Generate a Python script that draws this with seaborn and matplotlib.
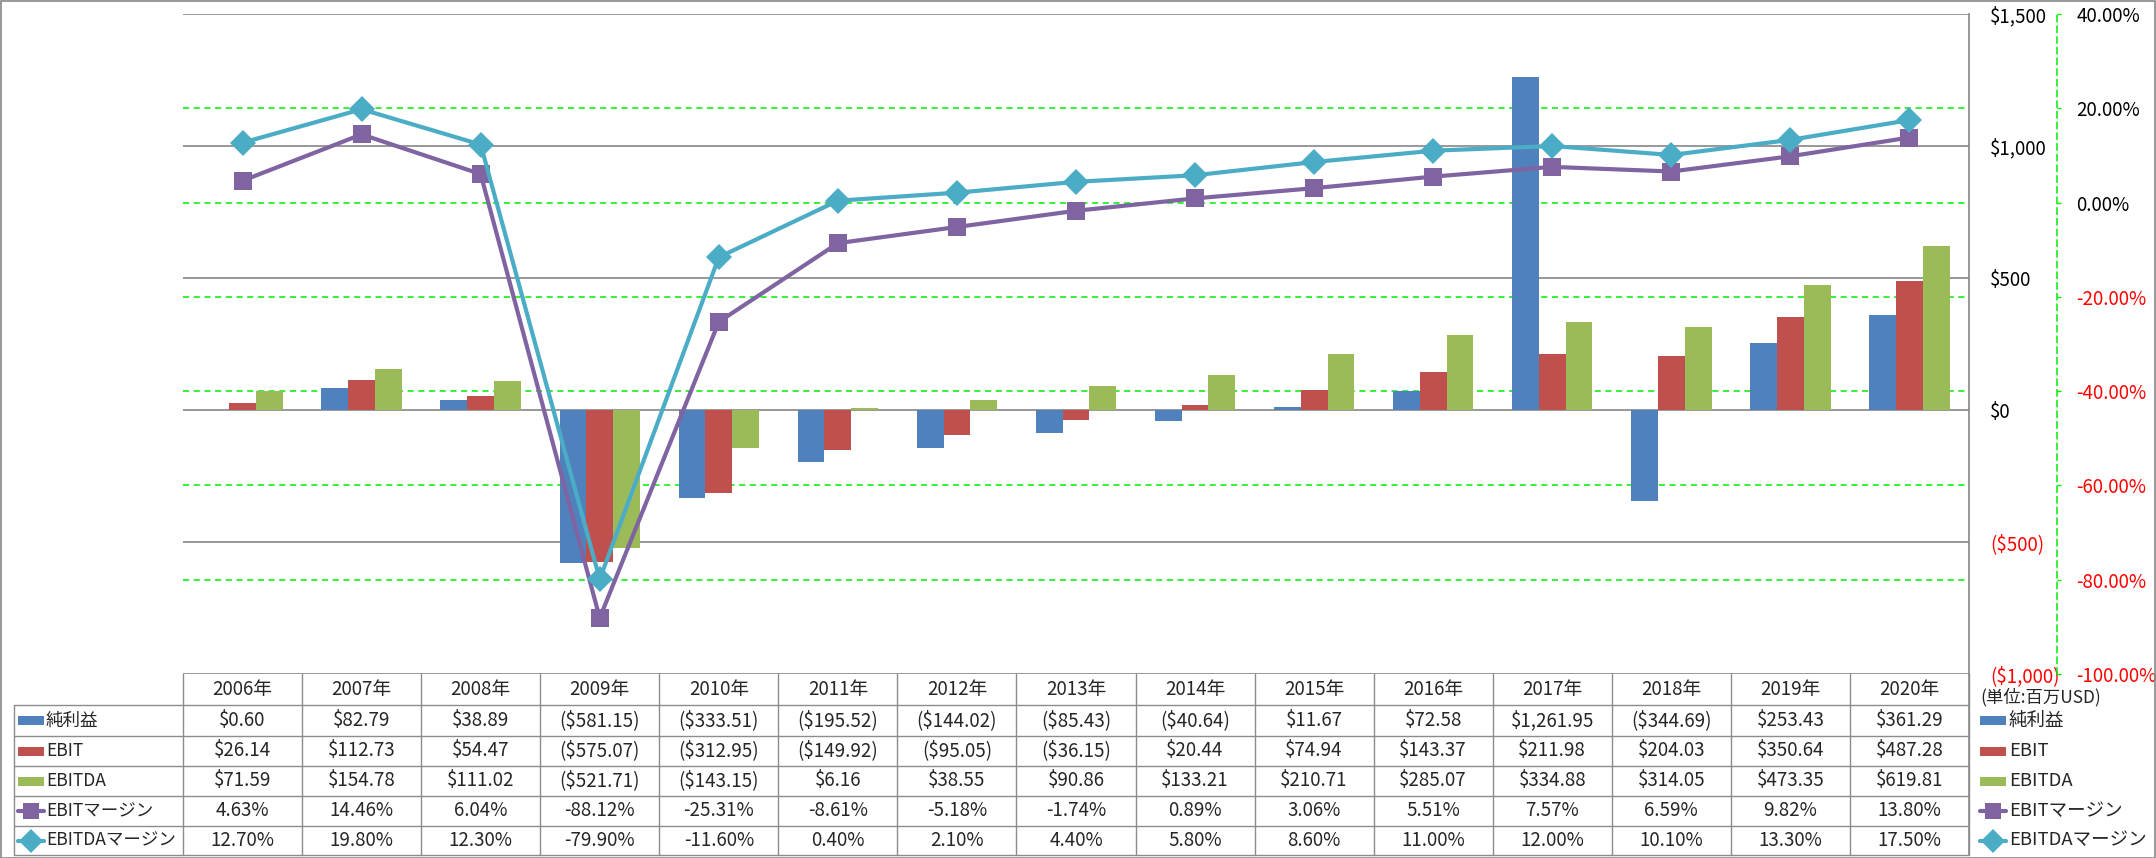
import numpy as np
import pandas as pd
import matplotlib
matplotlib.use('Agg')
import matplotlib.pyplot as plt
import matplotlib.transforms as mtransforms
from matplotlib.patches import Rectangle
from matplotlib.lines import Line2D
import seaborn as sns

# data
years = ['2006年', '2007年', '2008年', '2009年', '2010年', '2011年', '2012年', '2013年',
         '2014年', '2015年', '2016年', '2017年', '2018年', '2019年', '2020年']
net_income = [0.60, 82.79, 38.89, -581.15, -333.51, -195.52, -144.02, -85.43,
              -40.64, 11.67, 72.58, 1261.95, -344.69, 253.43, 361.29]
ebit = [26.14, 112.73, 54.47, -575.07, -312.95, -149.92, -95.05, -36.15,
        20.44, 74.94, 143.37, 211.98, 204.03, 350.64, 487.28]
ebitda = [71.59, 154.78, 111.02, -521.71, -143.15, 6.16, 38.55, 90.86,
          133.21, 210.71, 285.07, 334.88, 314.05, 473.35, 619.81]
ebit_margin = [4.63, 14.46, 6.04, -88.12, -25.31, -8.61, -5.18, -1.74,
               0.89, 3.06, 5.51, 7.57, 6.59, 9.82, 13.80]
ebitda_margin = [12.70, 19.80, 12.30, -79.90, -11.60, 0.40, 2.10, 4.40,
                 5.80, 8.60, 11.00, 12.00, 10.10, 13.30, 17.50]

bar_names = ['純利益', 'EBIT', 'EBITDA']
line_names = ['EBITマージン', 'EBITDAマージン']
bar_colors = ['#4F81BD', '#C0504D', '#9BBB59']
line_colors = ['#8064A2', '#4BACC6']
line_markers = ['s', 'D']
money_ticks = [-1000, -500, 0, 500, 1000, 1500]
pct_ticks = [-100, -80, -60, -40, -20, 0, 20, 40]

GRAY = '#868686'
GREEN = '#00EE00'


def money(v, d=2):
    s = f"${abs(v):,.{d}f}"
    return f"({s})" if v < 0 else s


sns.set_style('white')
plt.rcParams['font.family'] = ['Noto Sans CJK JP', 'DejaVu Sans']

W, H = 2156, 858
fig = plt.figure(figsize=(W / 100, H / 100), dpi=100)

# plot area in pixels
L, R, T, B = 183, 1969, 14, 674
ax = fig.add_axes([L / W, 1 - B / H, (R - L) / W, (B - T) / H])

df = pd.DataFrame({
    'year': years * 3,
    'series': [n for n in bar_names for _ in years],
    'value': net_income + ebit + ebitda,
})
sns.barplot(data=df, x='year', y='value', hue='series', hue_order=bar_names,
            palette=bar_colors, width=0.675, saturation=1, errorbar=None,
            legend=False, linewidth=0, ax=ax, zorder=2)

ax.set_ylim(-1000, 1500)
ax.set_xlim(-0.5, len(years) - 0.5)
for v in money_ticks:
    ax.axhline(v, color=GRAY, lw=1.2, zorder=0.5)
ax.tick_params(axis='x', length=0, labelbottom=False)
ax.set_xlabel('')
ax.set_ylabel('')
for s in ['top', 'left', 'bottom']:
    ax.spines[s].set_visible(False)
ax.spines['right'].set_color(GRAY)
ax.spines['right'].set_linewidth(1.2)

# secondary axis for the margins
ax2 = ax.twinx()
ax2.set_ylim(-100, 40)
trans = mtransforms.blended_transform_factory(ax.transAxes, ax2.transData)
for v in pct_ticks[1:-1]:
    ax.plot([0, 1], [v, v], transform=trans, color=GREEN, lw=1.1,
            ls=(0, (4, 3)), zorder=0.6)

xs = np.arange(len(years))
for vals, c, m, ms in zip([ebit_margin, ebitda_margin], line_colors, line_markers, [13, 13.5]):
    sns.lineplot(x=xs, y=vals, ax=ax2, color=c, marker=m, markersize=ms,
                 markeredgewidth=0, linewidth=3)
ax.set_xlim(-0.5, len(years) - 0.5)

# primary ticks on the right (after twinx, which moves them left)
ax.yaxis.tick_right()
ax.set_yticks(money_ticks)
ax.set_yticklabels([money(v, 0) for v in money_ticks])
ax.tick_params(axis='y', length=0, pad=15, labelsize=13.5)
for t, v in zip(ax.yaxis.get_major_ticks(), money_ticks):
    t.label2.set_color('red' if v < 0 else 'black')

ax2.set_ylabel('')
ax2.set_xlabel('')
for s in ['top', 'left', 'bottom']:
    ax2.spines[s].set_visible(False)
ax2.spines['right'].set_position(('axes', (2057 - L) / (R - L)))
ax2.spines['right'].set_color(GREEN)
ax2.spines['right'].set_linestyle((0, (4, 3)))
ax2.spines['right'].set_linewidth(1.1)
ax2.set_yticks(pct_ticks)
ax2.set_yticklabels([f"{v:.2f}%" for v in pct_ticks])
ax2.tick_params(axis='y', direction='out', length=3, width=1, color=GREEN,
                pad=11, labelsize=13.5)
for t, v in zip(ax2.yaxis.get_major_ticks(), pct_ticks):
    t.label2.set_color('red' if v < 0 else 'black')

# data table below the plot, in pixel coordinates
tab = fig.add_axes([0, 0, 1, 1], zorder=-1)
tab.set_xlim(0, W)
tab.set_ylim(H, 0)
tab.axis('off')

col_edges = np.linspace(L, R, len(years) + 1)
col_mid = (col_edges[:-1] + col_edges[1:]) / 2
row_edges = [674, 705, 736, 766, 796, 826, 855]
TL = 14
lc = '#8C8C8C'

for x in col_edges:
    tab.plot([x, x], [row_edges[0], row_edges[-1]], color=lc, lw=1)
tab.plot([TL, TL], [row_edges[1], row_edges[-1]], color=lc, lw=1)
tab.plot([R, R], [row_edges[0], row_edges[-1]], color=lc, lw=1.2)
for y in row_edges[1:]:
    tab.plot([TL, R], [y, y], color=lc, lw=1)

hy = (row_edges[0] + row_edges[1]) / 2
for x, yr in zip(col_mid, years):
    tab.text(x, hy, yr, ha='center', va='center', fontsize=13.5)

rows = [
    [money(v) for v in net_income],
    [money(v) for v in ebit],
    [money(v) for v in ebitda],
    [f"{v:.2f}%" for v in ebit_margin],
    [f"{v:.2f}%" for v in ebitda_margin],
]
names = bar_names + line_names
for i, (cells, name) in enumerate(zip(rows, names)):
    ym = (row_edges[i + 1] + row_edges[i + 2]) / 2
    for x, s in zip(col_mid, cells):
        tab.text(x, ym, s, ha='center', va='center', fontsize=13.5)
    # legend keys: inside the table and on the right side
    for kx, tx, fs in [(TL + 4, TL + 31, 12.6), (1980, 2008, 13.3)]:
        if i < 3:
            tab.add_patch(Rectangle((kx, ym - 4.5), 26, 9, color=bar_colors[i], lw=0))
        else:
            c = line_colors[i - 3]
            tab.add_line(Line2D([kx, kx + 26], [ym, ym], color=c, lw=3))
            tab.add_line(Line2D([kx + 13], [ym], color=c, marker=line_markers[i - 3],
                                markersize=12, markeredgewidth=0))
        tab.text(tx + 1, ym, name, ha='left', va='center', fontsize=fs)

tab.text(1980, 697, '(単位:百万USD)', ha='left', va='center', fontsize=12.5)

# chart border
fig.patches.append(Rectangle((0.5 / W, 0.5 / H), 1 - 1.5 / W, 1 - 1.5 / H,
                             transform=fig.transFigure, fill=False,
                             edgecolor=GRAY, lw=1.2))

fig.savefig('out.png', dpi=100)
